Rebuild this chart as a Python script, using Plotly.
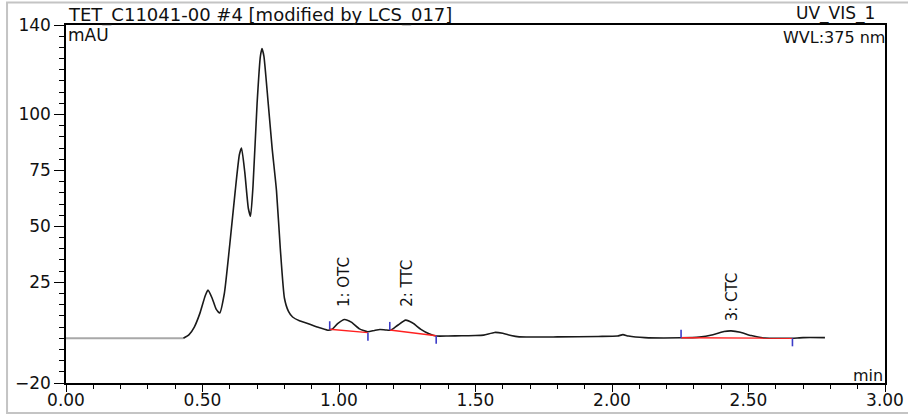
import plotly.graph_objects as go

# ---------- chromatogram ---------------------------------------------
time_min = [0.00, 0.43, 0.45, 0.47, 0.49, 0.51, 0.52, 0.535, 0.55, 0.563,
            0.58, 0.60, 0.62, 0.635, 0.643, 0.655, 0.668, 0.676, 0.685, 0.70,
            0.712, 0.718, 0.725, 0.74, 0.755, 0.771, 0.785, 0.80, 0.815, 0.83,
            0.855, 0.88, 0.92, 0.959, 0.975, 0.995, 1.02, 1.045, 1.075, 1.105,
            1.13, 1.15, 1.17, 1.19, 1.215, 1.244, 1.27, 1.30, 1.33, 1.356,
            1.40, 1.45, 1.50, 1.53, 1.57, 1.60, 1.63, 1.66, 1.80, 1.95,
            2.02, 2.04, 2.06, 2.12, 2.25, 2.32, 2.37, 2.41, 2.436, 2.47,
            2.51, 2.56, 2.62, 2.66, 2.70, 2.78]
signal_mau = [0.0, 0.0, 1.5, 5.0, 11.0, 19.0, 21.5, 18.0, 13.0, 11.3,
              20.0, 42.0, 66.0, 82.0, 85.0, 74.0, 58.0, 54.5, 68.0, 105.0,
              126.0, 129.5, 126.0, 106.0, 85.0, 66.0, 40.0, 18.0, 12.0, 9.5,
              7.8, 6.8, 5.0, 3.6, 4.0, 6.5, 8.4, 7.2, 4.2, 2.9,
              3.5, 3.9, 3.7, 3.6, 5.8, 8.1, 6.8, 4.0, 2.0, 1.0,
              1.0, 1.1, 1.2, 1.4, 2.6, 2.2, 1.2, 0.6, 0.6, 0.8,
              1.0, 1.6, 1.0, 0.3, 0.2, 0.5, 1.6, 3.0, 3.3, 2.7,
              1.2, 0.1, 0.0, 0.0, 0.3, 0.3]

# injection delay (grey part of the trace)
delay_time = [0.00, 0.43]
delay_signal = [0.0, 0.0]

# ---------- integrated peaks -----------------------------------------
peak_names = ["1: OTC", "2: TTC", "3: CTC"]
peak_start = [0.966, 1.186, 2.253]
peak_end = [1.106, 1.356, 2.661]
base_start = [4.0, 3.7, 0.25]
base_end = [2.5, 1.1, 0.0]
label_time = [1.018, 1.246, 2.44]
label_level = [13.0, 13.0, 6.5]

x_ticks = [0.0, 0.5, 1.0, 1.5, 2.0, 2.5, 3.0]
y_ticks = [-20, 25, 50, 75, 100, 140]

FONT = "DejaVu Sans, Arial, sans-serif"
MARK = 3.6  # height of the blue integration marks, mAU

fig = go.Figure()

fig.add_trace(go.Scatter(x=delay_time, y=delay_signal, mode="lines",
                         line=dict(color="#a8a8a8", width=2), showlegend=False))
fig.add_trace(go.Scatter(x=time_min[1:], y=signal_mau[1:], mode="lines",
                         line=dict(color="#1a1a1a", width=1.6, shape="spline", smoothing=0.5),
                         showlegend=False))

# red baselines + blue start / end marks
for s, e, bs, be in zip(peak_start, peak_end, base_start, base_end):
    fig.add_trace(go.Scatter(x=[s, e], y=[bs, be], mode="lines",
                             line=dict(color="#ff2020", width=1.4), showlegend=False))
    fig.add_trace(go.Scatter(x=[s, s, None, e, e], y=[bs, bs + MARK, None, be, be - MARK],
                             mode="lines", line=dict(color="#3c3cc8", width=1.6),
                             showlegend=False))

for name, t, lv in zip(peak_names, label_time, label_level):
    fig.add_annotation(x=t, y=lv, text=name, textangle=-90, showarrow=False,
                       xanchor="center", yanchor="bottom",
                       font=dict(family=FONT, size=15, color="#111"))

# header / corner texts
texts = [
    ("TET_C11041-00 #4 [modified by LCS_017]", 0.0, 1.028, "left", 18),
    ("UV_VIS_1", 0.99, 1.031, "right", 17),
    ("WVL:375 nm", 1.003, 0.964, "right", 16),
    ("mAU", 0.0, 0.972, "left", 17),
    ("min", 1.0, 0.022, "right", 16),
]
for txt, px, py, xa, fs in texts:
    fig.add_annotation(x=px, y=py, xref="paper", yref="paper", text=txt,
                       showarrow=False, xanchor=xa, yanchor="middle",
                       font=dict(family=FONT, size=fs, color="#111"))

# light grey outer border
fig.add_shape(type="rect", xref="paper", yref="paper",
              x0=-0.072, x1=1.2, y0=-0.084, y1=1.063,
              line=dict(color="#c4c4c4", width=2), layer="above")

axis_common = dict(showline=True, linecolor="black", linewidth=1.5, mirror=True,
                   ticks="outside", tickcolor="black", tickwidth=1.2,
                   showgrid=False, zeroline=False, automargin=False,
                   tickfont=dict(family=FONT, size=17, color="#111"))

fig.update_layout(
    width=908,
    height=415,
    margin=dict(l=66, r=23, t=25, b=32),
    plot_bgcolor="white",
    paper_bgcolor="white",
    xaxis=dict(range=[0, 3], tickvals=x_ticks,
               ticktext=[f"{v:.2f}" for v in x_ticks], ticklen=7,
               ticklabelstandoff=-6,
               minor=dict(dtick=0.1, tick0=0, ticks="outside", ticklen=4,
                          tickcolor="black", showgrid=False),
               **axis_common),
    yaxis=dict(range=[-20, 140], tickvals=y_ticks, ticklen=10,
               minor=dict(dtick=5, tick0=0, ticks="outside", ticklen=5,
                          tickcolor="black", showgrid=False),
               **axis_common),
)

# the page body has a default 8px margin; remove it so the figure fills the window
fig.write_html("out.html", config={"displayModeBar": False},
               post_script="document.body.style.margin='0';")
